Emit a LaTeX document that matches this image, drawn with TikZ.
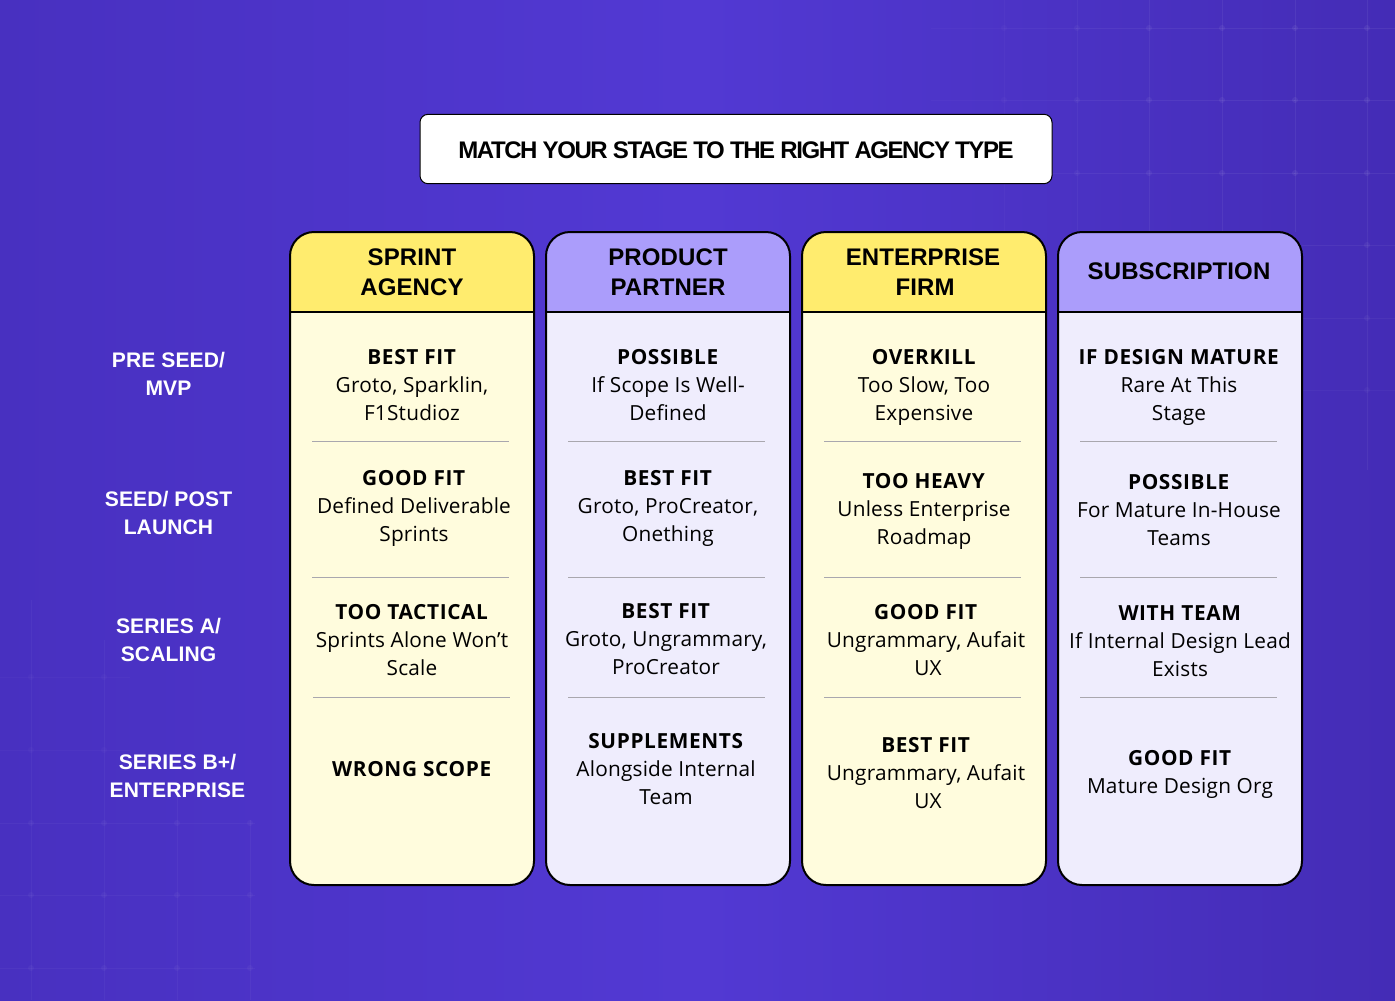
\documentclass[tikz,border=0pt]{standalone}
\usepackage{fontspec}
\setmainfont{Open Sans}[LetterSpace=1,BoldFeatures={LetterSpace=3}]
\newfontfamily\headfont[LetterSpace=0.5]{Liberation Sans}
\newfontfamily\titlefont[LetterSpace=-6]{Liberation Sans}
\definecolor{bgleft}{HTML}{4830C0}
\definecolor{bgmiddle}{HTML}{5239D3}
\definecolor{bgright}{HTML}{442CB6}
\definecolor{cardyellow}{HTML}{FFEC6E}
\definecolor{cardcream}{HTML}{FFFCDD}
\definecolor{cardpurple}{HTML}{AB9DFB}
\definecolor{cardlilac}{HTML}{EFEDFD}
\definecolor{rulegrey}{HTML}{A9A7AE}
\tikzset{
	cardline/.style={draw=black,line width=1.5pt},
	rowrule/.style={draw=rulegrey,line width=0.7pt},
	gridline/.style={draw=white,line width=0.6pt},
	griddot/.style={fill=white},
	cardhead/.style={align=center,text=black,font=\headfont\bfseries\fontsize{18}{22.5}\selectfont},
	cardcell/.style={align=center,text=black,font=\fontsize{15.6}{21}\selectfont},
	stagelabel/.style={align=center,text=white,font=\headfont\bfseries\fontsize{15.8}{21}\selectfont},
	titlelabel/.style={text=black,font=\titlefont\bfseries\fontsize{18}{22}\selectfont}
}
\begin{document}
\begin{tikzpicture}[x=0.75pt,y=-0.75pt]
	\useasboundingbox (0,0) rectangle (1395,1000);
	\shade[left color=bgleft,right color=bgright,middle color=bgmiddle] (0,0) rectangle (1395,1000);
	
	% faint grid, top right, dying out to the left
	\foreach \gx/\gop in {1004/0.025,1077/0.035,1149/0.05,1222/0.055,1295/0.06,1367/0.06} {
		\draw[gridline,opacity=\gop] (\gx,0) -- (\gx,232);
		\draw[gridline,opacity=\gop] (\gx-73,28) -- (\gx,28);
		\draw[gridline,opacity=\gop] (\gx-73,100) -- (\gx,100);
		\draw[gridline,opacity=\gop] (\gx-73,173) -- (\gx,173);
		\fill[griddot,opacity=\gop] (\gx,28) circle (3);
		\fill[griddot,opacity=\gop] (\gx,100) circle (3);
		\fill[griddot,opacity=\gop] (\gx,173) circle (3);
	}
	\draw[gridline,opacity=0.06] (1367,28) -- (1395,28);
	\draw[gridline,opacity=0.06] (1367,100) -- (1395,100);
	\draw[gridline,opacity=0.06] (1367,173) -- (1395,173);
	\draw[gridline,opacity=0.05] (1367,232) -- (1367,470);
	\draw[gridline,opacity=0.05] (1302,245) -- (1395,245);
	\draw[gridline,opacity=0.04] (1302,318) -- (1395,318);
	\draw[gridline,opacity=0.03] (1302,390) -- (1395,390);
	\fill[griddot,opacity=0.05] (1367,245) circle (3);
	\fill[griddot,opacity=0.04] (1367,318) circle (3);
	\fill[griddot,opacity=0.03] (1367,390) circle (3);
	
	% faint grid, bottom left
	\foreach \gx/\gtop in {31/600,104/640,177/790,250/820} {
		\draw[gridline,opacity=0.035] (\gx,\gtop) -- (\gx,1000);
		\fill[griddot,opacity=0.035] (\gx,823) circle (3);
		\fill[griddot,opacity=0.035] (\gx,895) circle (3);
		\fill[griddot,opacity=0.035] (\gx,968) circle (3);
	}
	\draw[gridline,opacity=0.025] (0,677) -- (130,677);
	\draw[gridline,opacity=0.025] (0,750) -- (130,750);
	\draw[gridline,opacity=0.035] (0,823) -- (255,823);
	\draw[gridline,opacity=0.035] (0,895) -- (255,895);
	\draw[gridline,opacity=0.035] (0,968) -- (255,968);
	\fill[griddot,opacity=0.025] (31,677) circle (3);
	\fill[griddot,opacity=0.025] (104,677) circle (3);
	\fill[griddot,opacity=0.025] (31,750) circle (3);
	\fill[griddot,opacity=0.025] (104,750) circle (3);
	
	% title
	\node[draw=black,line width=0.75pt,fill=white,rounded corners=6pt,minimum width=474pt,minimum height=52pt] (titlebox) at (736,149) {};
	\node[titlelabel] (titletext) at (736,150) {MATCH YOUR STAGE TO THE RIGHT AGENCY TYPE};
	
	% cards
	\fill[cardcream] (290,300) [rounded corners=18pt] -- (290,885) -- (534,885) [sharp corners] -- (534,300) -- cycle;
	\fill[cardyellow] (290,312) [rounded corners=18pt] -- (290,232) -- (534,232) [sharp corners] -- (534,312) -- cycle;
	\draw[cardline] (290,312) -- (534,312);
	\draw[cardline,rounded corners=18pt] (290,232) rectangle (534,885);
	
	\fill[cardlilac] (546,300) [rounded corners=18pt] -- (546,885) -- (790,885) [sharp corners] -- (790,300) -- cycle;
	\fill[cardpurple] (546,312) [rounded corners=18pt] -- (546,232) -- (790,232) [sharp corners] -- (790,312) -- cycle;
	\draw[cardline] (546,312) -- (790,312);
	\draw[cardline,rounded corners=18pt] (546,232) rectangle (790,885);
	
	\fill[cardcream] (802,300) [rounded corners=18pt] -- (802,885) -- (1046,885) [sharp corners] -- (1046,300) -- cycle;
	\fill[cardyellow] (802,312) [rounded corners=18pt] -- (802,232) -- (1046,232) [sharp corners] -- (1046,312) -- cycle;
	\draw[cardline] (802,312) -- (1046,312);
	\draw[cardline,rounded corners=18pt] (802,232) rectangle (1046,885);
	
	\fill[cardlilac] (1058,300) [rounded corners=18pt] -- (1058,885) -- (1302,885) [sharp corners] -- (1302,300) -- cycle;
	\fill[cardpurple] (1058,312) [rounded corners=18pt] -- (1058,232) -- (1302,232) [sharp corners] -- (1302,312) -- cycle;
	\draw[cardline] (1058,312) -- (1302,312);
	\draw[cardline,rounded corners=18pt] (1058,232) rectangle (1302,885);
	
	% rules between the rows
	\draw[rowrule] (312,441) -- (509,441);
	\draw[rowrule] (312,577) -- (509,577);
	\draw[rowrule] (313,697) -- (510,697);
	\draw[rowrule] (568,441) -- (765,441);
	\draw[rowrule] (568,577) -- (765,577);
	\draw[rowrule] (568,697) -- (765,697);
	\draw[rowrule] (824,441) -- (1021,441);
	\draw[rowrule] (824,577) -- (1021,577);
	\draw[rowrule] (824,697) -- (1021,697);
	\draw[rowrule] (1080,441) -- (1277,441);
	\draw[rowrule] (1080,577) -- (1277,577);
	\draw[rowrule] (1080,697) -- (1277,697);
	
	% card headers
	\node[cardhead] (headsprint) at (412,272) {SPRINT\\AGENCY};
	\node[cardhead] (headpartner) at (668,272) {PRODUCT\\PARTNER};
	\node[cardhead] (headfirm) at (923,272) {ENTERPRISE\\\hspace*{3pt}FIRM};
	\node[cardhead] (headsub) at (1179,271.5) {SUBSCRIPTION};
	
	% stages
	\node[stagelabel] (stagemvp) at (168.5,373.5) {PRE SEED/\\MVP};
	\node[stagelabel] (stageseed) at (168.5,512.5) {SEED/ POST\\LAUNCH};
	\node[stagelabel] (stagescale) at (168.5,639.5) {SERIES A/\\SCALING};
	\node[stagelabel] (stageent) at (177.5,775.5) {SERIES B+/\\ENTERPRISE};
	
	% sprint agency
	\node[cardcell] (sprinta) at (412,385) {\textbf{BEST FIT}\\Groto, Sparklin,\\F1Studioz};
	\node[cardcell] (sprintb) at (414,508) {\textbf{GOOD FIT}\\Defined Deliverable\\Sprints};
	\node[cardcell] (sprintc) at (412,640) {\textbf{TOO TACTICAL}\\Sprints Alone Won't\\Scale};
	\node[cardcell] (sprintd) at (412,769) {\textbf{WRONG SCOPE}};
	
	% product partner
	\node[cardcell] (partnera) at (668,385) {\textbf{POSSIBLE}\\If Scope Is Well-\\Defined};
	\node[cardcell] (partnerb) at (668,508) {\textbf{BEST FIT}\\Groto, ProCreator,\\Onething};
	\node[cardcell] (partnerc) at (666,639) {\textbf{BEST FIT}\\Groto, Ungrammary,\\ProCreator};
	\node[cardcell] (partnerd) at (666,769) {\textbf{SUPPLEMENTS}\\Alongside Internal\\Team};
	
	% enterprise firm
	\node[cardcell] (firma) at (924,387) {\textbf{OVERKILL}\\Too Slow, Too\\Expensive};
	\node[cardcell] (firmb) at (924,511) {\textbf{TOO HEAVY}\\Unless Enterprise\\Roadmap};
	\node[cardcell] (firmc) at (926,640) {\textbf{GOOD FIT}\\Ungrammary, Aufait\\\hspace*{3pt}UX};
	\node[cardcell] (firmd) at (926,773) {\textbf{BEST FIT}\\Ungrammary, Aufait\\\hspace*{3pt}UX};
	
	% subscription
	\node[cardcell] (suba) at (1179,387) {\textbf{IF DESIGN MATURE}\\Rare At This\\Stage};
	\node[cardcell] (subb) at (1179,510) {\textbf{POSSIBLE}\\For Mature In-House\\Teams};
	\node[cardcell] (subc) at (1180,641) {\textbf{WITH TEAM}\\If Internal Design Lead\\Exists};
	\node[cardcell] (subd) at (1180,774) {\textbf{GOOD FIT}\\Mature Design Org};
	
\end{tikzpicture}
\end{document}
